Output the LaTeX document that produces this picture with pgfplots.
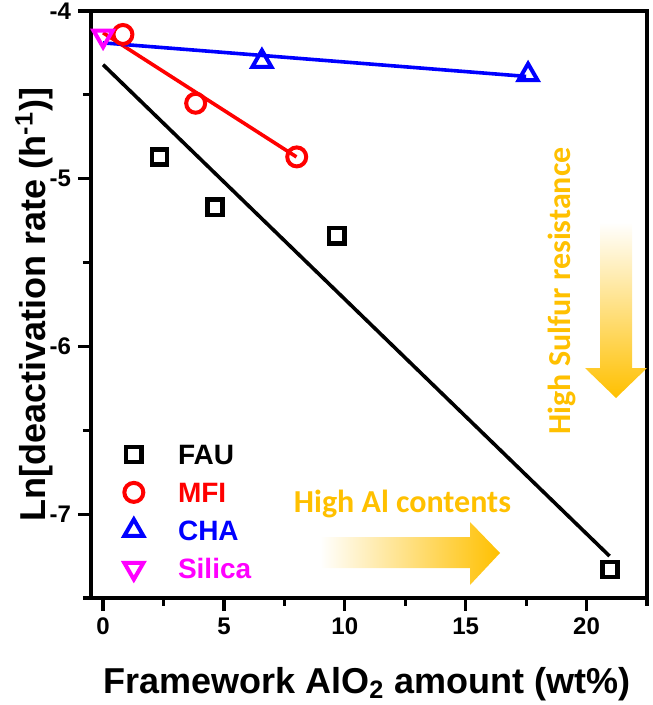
\documentclass[border=0pt]{standalone}
\usepackage{fontspec}
\setmainfont{Liberation Sans}
\newfontfamily\calibri{Carlito}
\usepackage{pgfplots}
\pgfplotsset{compat=1.18}
\definecolor{gold}{RGB}{255,192,0}
\definecolor{mag}{RGB}{255,0,255}

\begin{document}
\begin{tikzpicture}
\begin{axis}[
    name=ax,
    scale only axis,
    width=278pt, height=293.5pt,
    xmin=-0.5, xmax=22.5, ymin=-7.5, ymax=-4,
    clip=false,
    axis line style={line width=1.6pt},
    xtick={0,5,...,20}, minor xtick={2.5,7.5,...,22.5},
    ytick={-7,-6,-5,-4}, minor ytick={-7.5,-6.5,-5.5,-4.5},
    tick align=outside, tick pos=left,
    major tick length=6.5pt, minor tick length=4pt,
    every tick/.style={black, line width=1.6pt},
    ticklabel style={font=\fontsize{12}{12}\selectfont\bfseries},
    /pgf/number format/assume math mode=true,
    xlabel={Framework AlO\textsubscript{2} amount (wt\%)},
    ylabel={Ln[deactivation rate (h\textsuperscript{-1})]},
    every axis x label/.style={at={(axis description cs:0.496,-0.162)}, anchor=base,
        font=\fontsize{18}{18}\selectfont\bfseries},
    every axis y label/.style={at={(axis description cs:-0.1025,0.5)}, rotate=90, anchor=center,
        font=\fontsize{18}{18}\selectfont\bfseries},
    legend image code/.code={\draw[#1] plot coordinates {(0pt,0pt)}; \path (-6pt,0pt) (19pt,0pt);},
    legend cell align=left,
    legend style={draw=none, fill=none, at={(axis description cs:0.04,0.276)}, anchor=north west,
        font=\fontsize{14}{14}\selectfont\bfseries, row sep=5pt,
        nodes={text height=10pt, text depth=0pt, inner sep=2pt}},
]

% linear fits
\addplot[black, line width=1.8pt, forget plot] coordinates {(0,-4.32) (20.95,-7.25)};
\addplot[red, line width=1.8pt, forget plot] coordinates {(0,-4.13) (8,-4.87)};
\addplot[blue, line width=1.8pt, forget plot] coordinates {(0,-4.19) (17.5,-4.39)};

% data
\addplot[only marks, mark=square, mark size=3.8pt, black, line width=2.2pt]
    coordinates {(2.33,-4.87) (4.63,-5.17) (9.67,-5.34) (20.97,-7.33)};
\addlegendentry{\textcolor{black}{FAU}}
\addplot[only marks, mark=o, mark size=4.75pt, red, line width=2pt]
    coordinates {(0.82,-4.14) (3.83,-4.55) (8.01,-4.87)};
\addlegendentry{\textcolor{red}{MFI}}
\addplot[only marks, mark=triangle, mark size=5.5pt, blue, line width=2pt]
    coordinates {(6.57,-4.30) (17.58,-4.38)};
\addlegendentry{\textcolor{blue}{CHA}}
\addplot[only marks, mark=triangle, mark options={rotate=180}, mark size=5.5pt, mag, line width=2pt]
    coordinates {(0,-4.15)};
\addlegendentry{\textcolor{mag}{Silica}}
\end{axis}

% annotations (pixel grid of the reference, origin at the axis top left)
\begin{scope}[shift={(ax.north west)}, x=0.5pt, y=-0.5pt]
\shade[left color=white, right color=gold]
    (229,526) -- (379,526) -- (379,511) -- (409,542) -- (379,574) -- (379,557) -- (229,557) -- cycle;
\shade[top color=white, bottom color=gold]
    (509,211) -- (541,211) -- (541,357) -- (556,357) -- (525,387) -- (494,357) -- (509,357) -- cycle;
\node[gold, font=\calibri\bfseries\fontsize{16}{16}\selectfont, anchor=base east] at (427,501) {High Al contents};
\node[gold, font=\calibri\bfseries\fontsize{16}{16}\selectfont, rotate=90, anchor=center] at (471,280) {High Sulfur resistance};
\end{scope}

\pgfresetboundingbox
\path[use as bounding box] ([shift={(-45.5pt,-53.5pt)}]ax.south west) rectangle ([shift={(2.5pt,5.5pt)}]ax.north east);
\end{tikzpicture}
\end{document}
